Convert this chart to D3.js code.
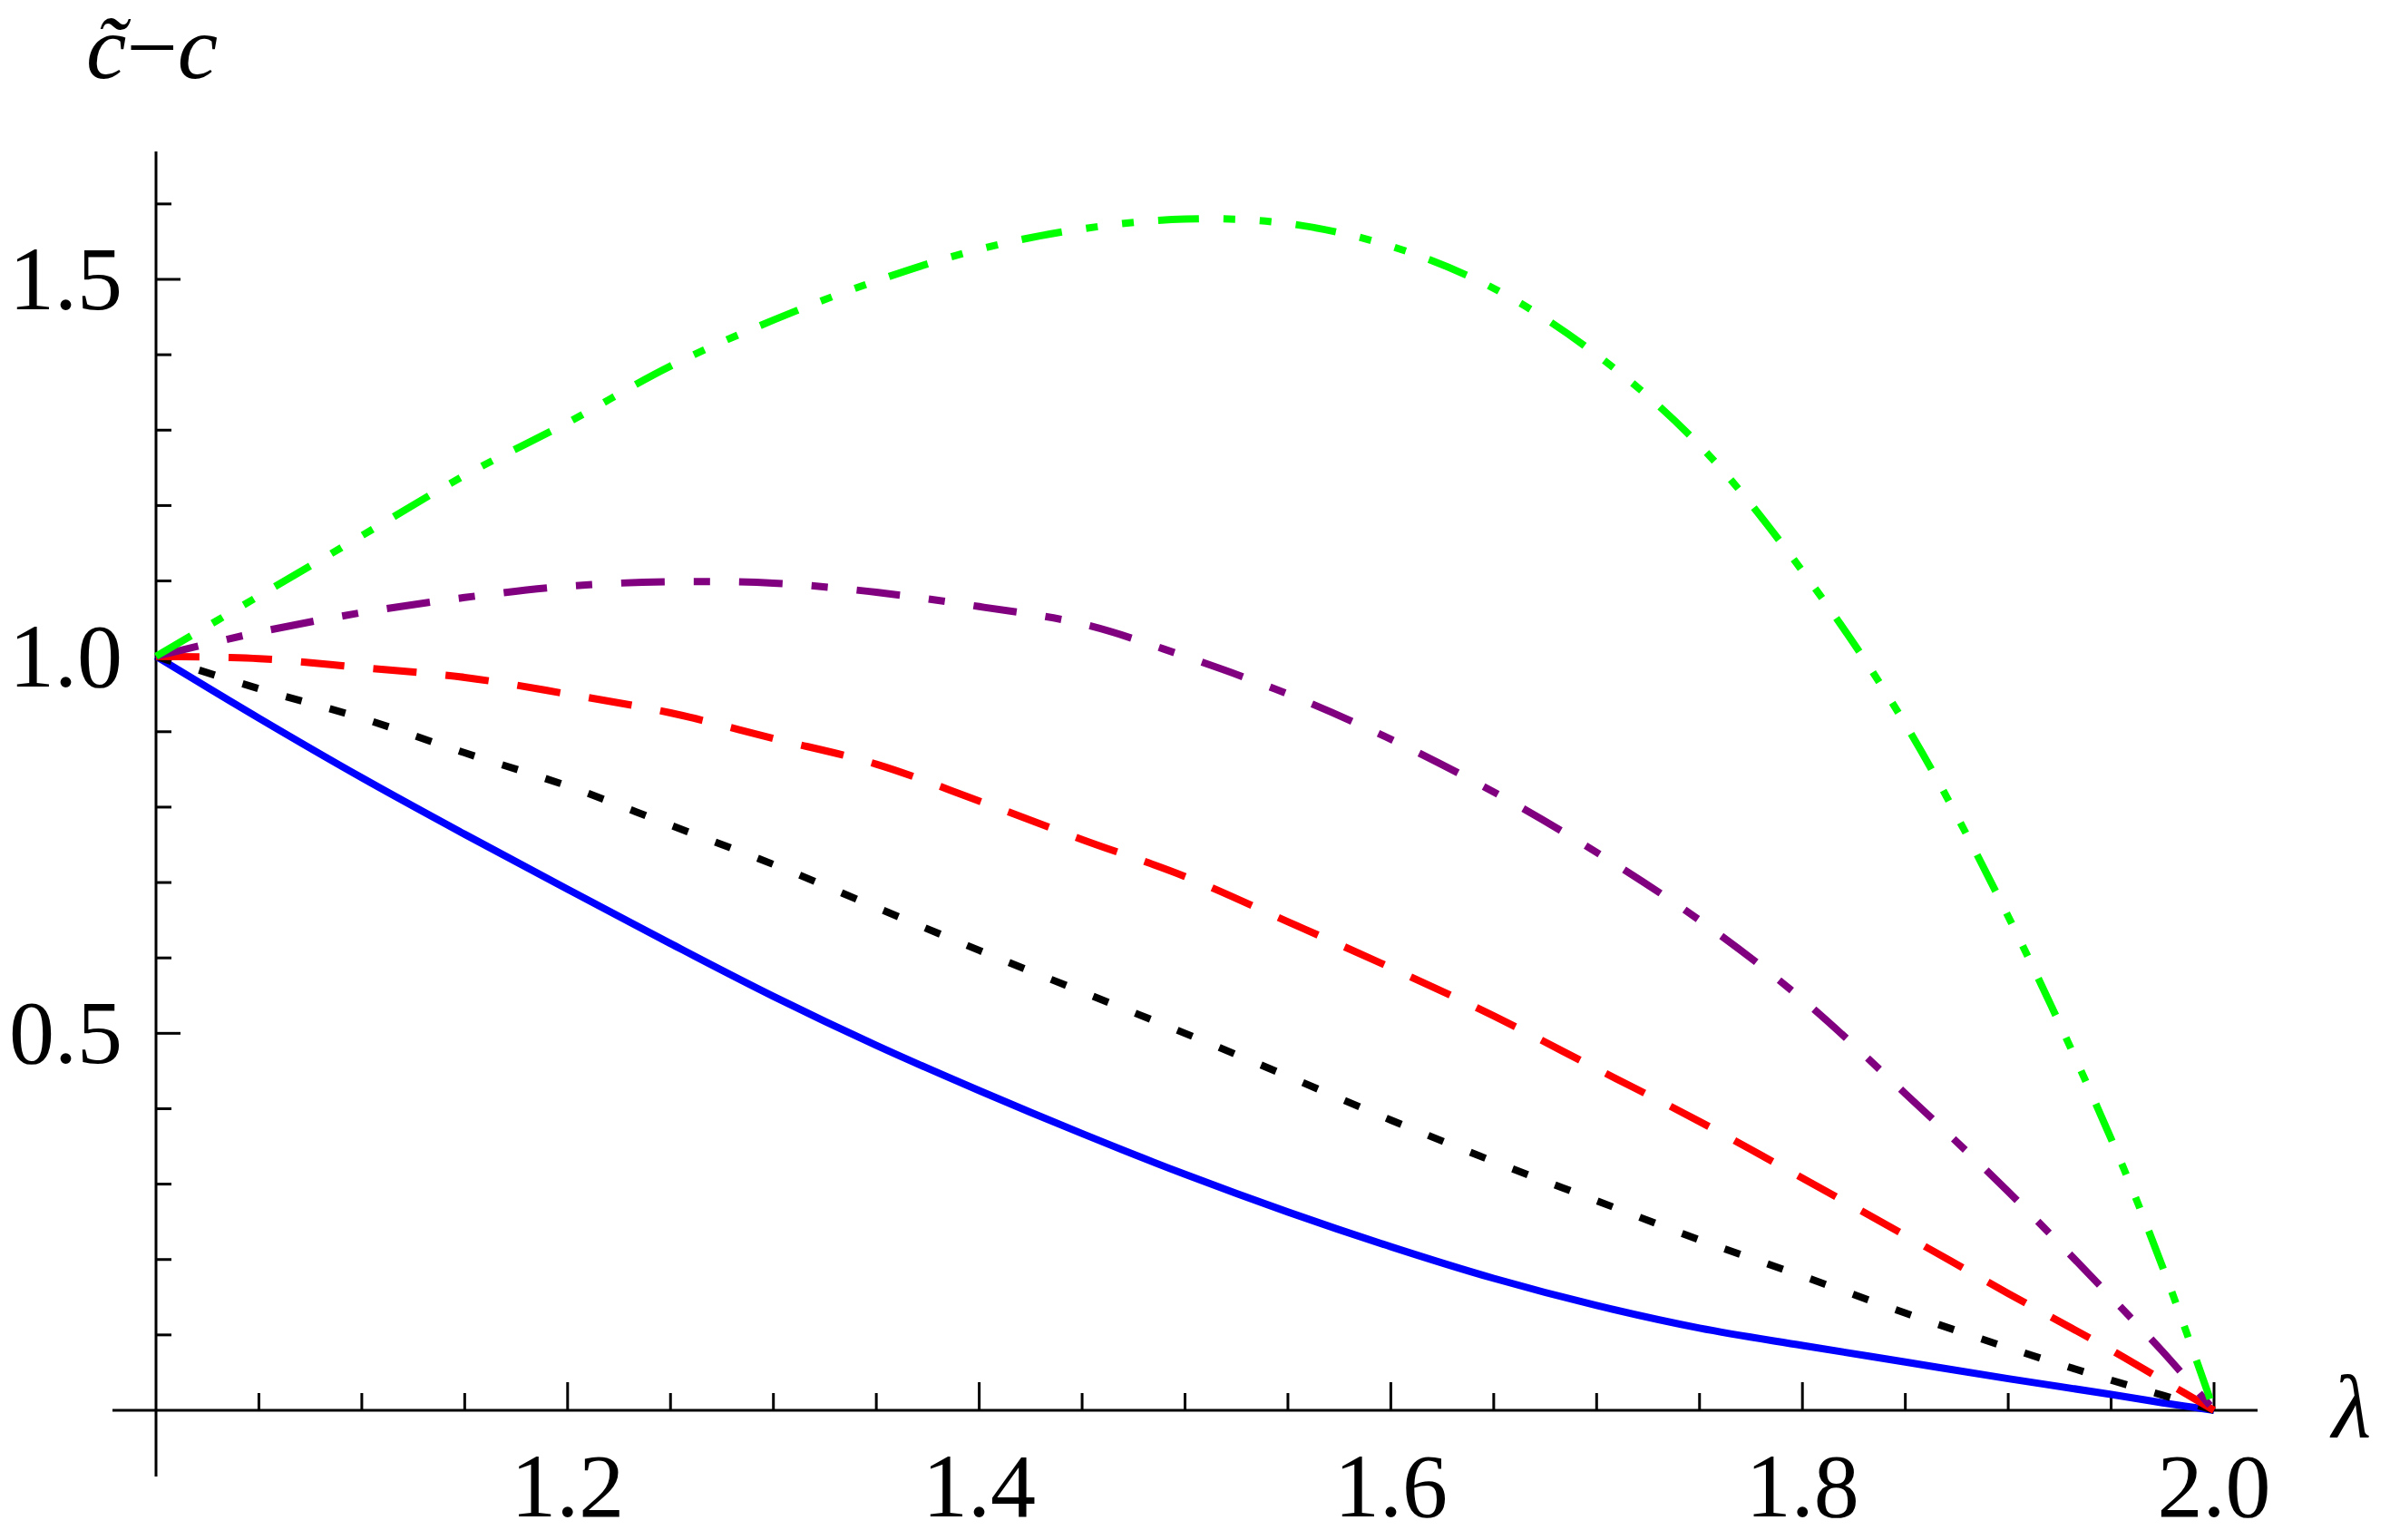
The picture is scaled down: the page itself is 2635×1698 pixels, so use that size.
<!DOCTYPE html>
<html><head><meta charset="utf-8">
<script src="https://cdn.jsdelivr.net/npm/d3@7/dist/d3.min.js"></script>
<style>body{margin:0;background:#fff}</style>
</head><body><svg id="c" width="2635" height="1698" font-family="'Liberation Serif', Tinos, 'Times New Roman', serif"></svg>
<script>
const lambda = [1.0,1.05,1.1,1.15,1.2,1.25,1.3,1.35,1.4,1.45,1.5,1.55,1.6,1.65,1.7,1.75,1.8,1.85,1.9,1.95,1.975,2.0];
const blue   = [1,0.918,0.839,0.764,0.691,0.619,0.549,0.484,0.424,0.367,0.313,0.263,0.217,0.175,0.139,0.109,0.086,0.064,0.042,0.021,0.01,0];
const black  = [1,0.957,0.918,0.872,0.828,0.776,0.724,0.667,0.61,0.555,0.5,0.443,0.385,0.33,0.278,0.226,0.178,0.129,0.083,0.04,0.02,0];
const red    = [1,0.997,0.985,0.972,0.95,0.925,0.891,0.857,0.808,0.757,0.708,0.648,0.587,0.523,0.453,0.383,0.308,0.232,0.155,0.08,0.04,0];
const purple = [1,1.032,1.058,1.078,1.093,1.099,1.097,1.085,1.066,1.043,1.0,0.95,0.89,0.82,0.74,0.65,0.545,0.42,0.29,0.15,0.078,0];
const green  = [1,1.08,1.16,1.24,1.31,1.385,1.446,1.498,1.54,1.567,1.58,1.574,1.544,1.488,1.40,1.28,1.113,0.91,0.655,0.36,0.19,0];
const xMajor = [1.2,1.4,1.6,1.8,2.0];
const yMajor = [0.5,1.0,1.5];

const series = [
  {v:blue,   color:"#0000ff", dash:null},
  {v:black,  color:"#000000", dash:"18,32"},
  {v:red,    color:"#ff0000", dash:"48,32"},
  {v:purple, color:"#800080", dash:"48,32,18,32"},
  {v:green,  color:"#00ff00", dash:"45,27,13,27,13,27"}
];

const svg = d3.select("#c");
const x = d3.scaleLinear().domain([1,2]).range([172,2441]);
const y = d3.scaleLinear().domain([0,1.5]).range([1555,308]);

svg.append("line").attr("x1",124).attr("x2",2489).attr("y1",y(0)).attr("y2",y(0)).attr("stroke","#000").attr("stroke-width",3);
svg.append("line").attr("x1",x(1)).attr("x2",x(1)).attr("y1",167).attr("y2",1628).attr("stroke","#000").attr("stroke-width",3);

const xt = d3.range(21).map(i=>1+i*0.05).filter(v=>v>1.001);
xt.forEach(v=>{
  const maj = xMajor.some(m=>Math.abs(m-v)<1e-6);
  svg.append("line").attr("x1",x(v)).attr("x2",x(v)).attr("y1",y(0)).attr("y2",y(0)-(maj?31:19)).attr("stroke","#000").attr("stroke-width",3);
});
xMajor.forEach(v=>svg.append("text").attr("x",x(v)).attr("y",1672).attr("text-anchor","middle").attr("font-size",100).text(d3.format(".1f")(v)));

d3.range(1,17).map(i=>i*0.1).forEach(v=>{
  const maj = yMajor.some(m=>Math.abs(m-v)<1e-6);
  svg.append("line").attr("x1",x(1)).attr("x2",x(1)+(maj?27:17)).attr("y1",y(v)).attr("y2",y(v)).attr("stroke","#000").attr("stroke-width",3);
});
yMajor.forEach(v=>svg.append("text").attr("x",135).attr("y",y(v)+33).attr("text-anchor","end").attr("font-size",100).text(d3.format(".1f")(v)));

const line = d3.line().x((d,i)=>x(lambda[i])).y(d=>y(d)).curve(d3.curveCatmullRom.alpha(0.5));
series.forEach(s=>{
  svg.append("path").attr("d",line(s.v)).attr("fill","none").attr("stroke",s.color)
    .attr("stroke-width",8).attr("stroke-dasharray",s.dash);
});

const t = svg.append("text").attr("x",95).attr("y",86).attr("font-size",100);
t.append("tspan").attr("font-style","italic").text("c\u0303");
t.append("tspan").text("\u2212");
t.append("tspan").attr("font-style","italic").text("c");
svg.append("text").attr("x",2571).attr("y",1585).attr("font-size",100).attr("font-style","italic").text("λ");
</script></body></html>
